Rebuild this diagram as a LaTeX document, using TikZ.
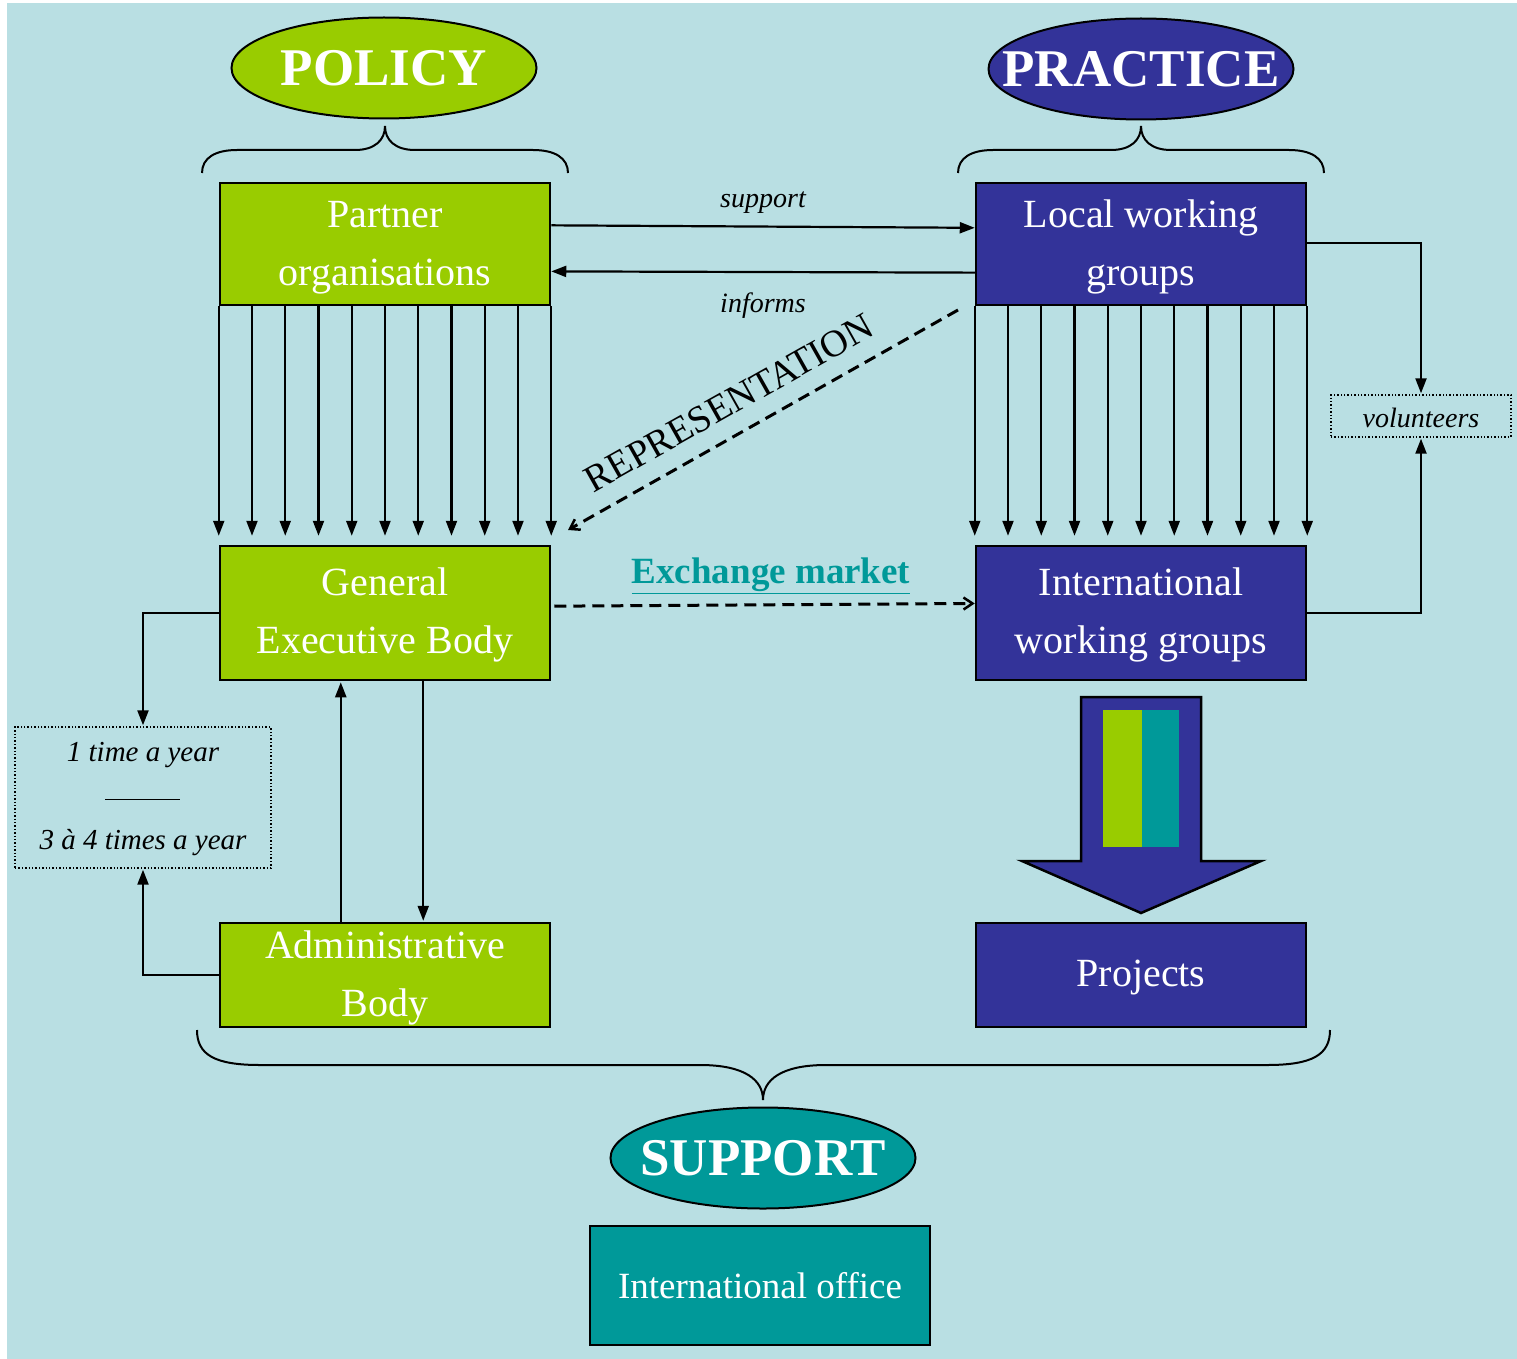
\documentclass[tikz,border=0pt]{standalone}
\usepackage{fontspec}
\setmainfont{Liberation Serif}
\usetikzlibrary{arrows.meta,shapes.geometric,calc}
\definecolor{bgc}{HTML}{B9DFE3}
\definecolor{lime}{HTML}{99CC00}
\definecolor{navy}{HTML}{333399}
\definecolor{tealc}{HTML}{009999}
\begin{document}
\begin{tikzpicture}[x=1pt,y=-1pt,
  box/.style={draw=black, line width=2.5pt, minimum width=330pt, inner sep=0pt, align=center, text=white, font=\fontsize{40}{58}\selectfont},
  btext/.style={inner sep=0pt, align=center, text=white, font=\fontsize{40}{58}\selectfont},
  head/.style={ellipse, draw=black, line width=2pt, inner sep=0pt, minimum width=305pt, minimum height=101pt},
  htext/.style={inner sep=0pt, text=white, font=\fontsize{53}{60}\selectfont\bfseries},
  arr/.style={line width=2.2pt, -{Triangle[length=15pt,width=11pt]}},
  dasharr/.style={line width=3pt, dash pattern=on 12pt off 7pt, -{Straight Barb[length=9pt,width=12pt,line width=2.5pt]}},
  notebox/.style={draw=black, dotted, line width=1.4pt, inner sep=0pt},
  lbl/.style={font=\fontsize{28}{34}\selectfont\itshape, text=black, inner sep=0pt},
  brace/.style={line width=2pt}
]
\useasboundingbox (0,0) rectangle (1517,1359);
\fill[white] (0,0) rectangle (1517,1359);
\fill[bgc] (7,3) rectangle (1517,1359);

% headings
\node[head, fill=lime] (policy) at (384,68) {};
\node[htext] (policytxt) at (policy) {POLICY};
\node[head, fill=navy] (practice) at (1141,69) {};
\node[htext] (practicetxt) at (practice) {PRACTICE};
\node[head, fill=tealc] (support) at (763,1158) {};
\node[htext] (supporttxt) at (support) {SUPPORT};

% braces
\draw[brace] (202,173) .. controls (202,158) and (215,150) .. (237,150) -- (355,150) .. controls (375,150) and (385,140) .. (385,126) .. controls (385,140) and (395,150) .. (415,150) -- (533,150) .. controls (555,150) and (568,158) .. (568,173);
\draw[brace] (958,173) .. controls (958,158) and (971,150) .. (993,150) -- (1111,150) .. controls (1131,150) and (1141,140) .. (1141,126) .. controls (1141,140) and (1151,150) .. (1171,150) -- (1289,150) .. controls (1311,150) and (1324,158) .. (1324,173);
\draw[brace] (197,1030) .. controls (197,1055) and (215,1065) .. (260,1065) -- (700,1065) .. controls (745,1065) and (763,1080) .. (763,1100) .. controls (763,1080) and (781,1065) .. (826,1065) -- (1267,1065) .. controls (1312,1065) and (1330,1055) .. (1330,1030);

% boxes
\node[box, fill=lime, minimum height=122pt] (po) at (385,244) {};
\node[btext] (potxt) at (385,248) {Partner\\organisations};
\node[box, fill=navy, minimum height=122pt] (lwg) at (1141,244) {};
\node[btext] (lwgtxt) at (1141,247) {Local working\\groups};
\node[box, fill=lime, minimum height=134pt] (geb) at (385,613) {};
\node[btext] (gebtxt) at (385,615) {General\\Executive Body};
\node[box, fill=navy, minimum height=134pt] (iwg) at (1141,613) {};
\node[btext] (iwgtxt) at (1141,615) {International\\working groups};
\node[box, fill=lime, minimum height=104pt] (adm) at (385,975) {};
\node[btext] (admtxt) at (385,978) {Administrative\\Body};
\node[box, fill=navy, minimum height=104pt] (proj) at (1141,975) {};
\node[btext] (projtxt) at (1141,978) {Projects};
\node[box, fill=tealc, minimum width=340pt, minimum height=119pt, font=\fontsize{37}{44}\selectfont] (office) at (760,1285.5) {International office};

% note boxes
\node[notebox, minimum width=180pt, minimum height=42pt] (vol) at (1421,416) {};
\node[lbl] (voltxt) at (1421,418) {volunteers};
\node[notebox, minimum width=256pt, minimum height=141pt] (tb) at (143,797.5) {};
\node[lbl, font=\fontsize{29}{34}\selectfont\itshape] (t1) at (143,755) {1 time a year};
\node[lbl, font=\fontsize{29}{34}\selectfont\itshape] (t2) at (143,843) {3 à 4 times a year};
\draw[line width=1pt] ($(tb.west)+(91,1.5)$) coordinate (la) -- ($(tb.west)+(166,1.5)$) coordinate (lb);

% vertical arrow bundles
\foreach \i in {0,...,10}{
  \draw[arr, shorten >=9pt] ($(po.south west)!\i/10!(po.south east)$) -- ($(geb.north west)!\i/10!(geb.north east)$);
  \draw[arr, shorten >=9pt] ($(lwg.south west)!\i/10!(lwg.south east)$) -- ($(iwg.north west)!\i/10!(iwg.north east)$);
}

% support / informs
\draw[arr] ($(po.north east)!0.35!(po.south east)$) -- node[lbl, above=12pt] (sup) {support} ($(lwg.north west)!0.37!(lwg.south west)$);
\draw[arr] ($(lwg.north west)!0.73!(lwg.south west)$) -- node[lbl, below=20pt] (inf) {informs} ($(po.north east)!0.72!(po.south east)$);

% volunteers links
\draw[arr, shorten >=1pt] ($(lwg.north east)!0.49!(lwg.south east)$) -| (vol.north);
\draw[arr, shorten >=1pt] (iwg.east) -| (vol.south);

% time box links
\draw[arr, shorten >=1pt] (geb.west) -| (tb.north);
\draw[arr, shorten >=1pt] (adm.west) -| (tb.south);

% GEB <-> Admin
\draw[arr, shorten >=1pt] ($(adm.north west)!0.367!(adm.north east)$) -- ($(geb.south west)!0.367!(geb.south east)$);
\draw[arr, shorten >=1pt] ($(geb.south west)!0.615!(geb.south east)$) -- ($(adm.north west)!0.615!(adm.north east)$);

% representation
\coordinate (rs) at (958,310);
\coordinate (re) at (568,530);
\draw[dasharr] (rs) -- (re);
\node[rotate=29.4, font=\fontsize{38}{40}\selectfont, inner sep=0pt] (rep) at (729,403) {REPRESENTATION};

% exchange market
\draw[dasharr] ($(geb.north east)!0.45!(geb.south east)+(3,0)$) -- ($(iwg.north west)!0.43!(iwg.south west)$);
\node[font=\fontsize{37}{40}\selectfont\bfseries, text=tealc, inner sep=0pt] (ex) at (771,576) {\underline{Exchange market}};

% big block arrow to projects
\draw[line width=2.5pt, fill=navy, line join=miter] (1081,697) -- (1201,697) -- (1201,861) -- (1261,861) -- (1141,913) -- (1022,861) -- (1081,861) -- cycle;
\fill[lime] (1103,710) rectangle (1142,847);
\fill[tealc] (1142,710) rectangle (1179,847);
\end{tikzpicture}
\end{document}
